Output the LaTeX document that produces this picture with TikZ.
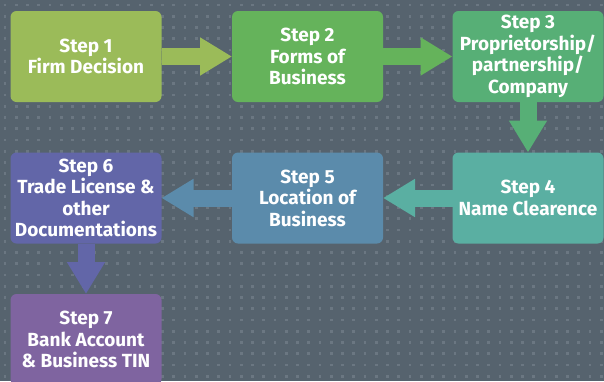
\documentclass[tikz,border=0pt]{standalone}
\usepackage{fontspec}
\setmainfont{Fira Sans}
\usetikzlibrary{arrows.meta}

\newlength{\du}
\setlength{\du}{1pt}

\definecolor{bgcolor}{HTML}{56636E}
\definecolor{dotcolor}{HTML}{6B7782}
\definecolor{stepone}{HTML}{9BBB59}
\definecolor{steptwo}{HTML}{65B35B}
\definecolor{stepthree}{HTML}{57AF76}
\definecolor{stepfour}{HTML}{5AAFA2}
\definecolor{stepfive}{HTML}{5B8BAB}
\definecolor{stepsix}{HTML}{6266A8}
\definecolor{stepseven}{HTML}{7F64A0}

\tikzset{
  stepbox/.style={fill=#1, rounded corners=6\du, minimum width=151\du, minimum height=91\du,
    inner sep=0pt, outer sep=0pt, align=center, text=white,
    font=\fontsize{19}{21.5}\selectfont\bfseries},
  blockarrow/.style={draw=#1, line width=17\du, -{Triangle[width=36pt,length=32pt]}},
  griddot/.style={fill=dotcolor},
}

\begin{document}
\begin{tikzpicture}
\pgftransformxscale{1.000000}
\pgftransformyscale{-1.000000}
\path[use as bounding box, clip] (0\du,0\du) rectangle (604\du,381\du);
% background
\fill[bgcolor] (0\du,0\du) rectangle (604\du,381\du);
\foreach \i [evaluate=\i as \dx using 3.7+11.25*\i] in {0,...,53}{
  \foreach \j [evaluate=\j as \dy using 3.7+11.25*\j] in {0,...,33}{
    \fill[griddot] (\dx\du,\dy\du) rectangle ++(2.6\du,2.6\du);
  }
}
% steps
\node[stepbox=stepone] (step1) at (86\du,56.5\du) {Step 1\\Firm Decision};
\node[stepbox=steptwo] (step2) at (307.5\du,56.5\du) {Step 2\\Forms of\\Business};
\node[stepbox=stepthree] (step3) at (528\du,56.5\du) {Step 3\\Proprietorship/\\partnership/\\Company};
\node[stepbox=stepfour] (step4) at (528\du,198\du) {Step 4\\Name Clearence};
\node[stepbox=stepfive] (step5) at (307.5\du,198\du) {Step 5\\Location of\\Business};
\node[stepbox=stepsix] (step6) at (86\du,198\du) {Step 6\\Trade License \&\\other\\Documentations};
\node[stepbox=stepseven] (step7) at (86\du,339.5\du) {Step 7\\Bank Account\\\& Business TIN};
% arrows
\draw[blockarrow=stepone] (step1.east) -- (step2.west);
\draw[blockarrow=steptwo] (step2.east) -- (step3.west);
\draw[blockarrow=stepthree] (step3.south) -- (step4.north);
\draw[blockarrow=stepfour] (step4.west) -- (step5.east);
\draw[blockarrow=stepfive] (step5.west) -- (step6.east);
\draw[blockarrow=stepsix] (step6.south) -- (step7.north);
\end{tikzpicture}
\end{document}
